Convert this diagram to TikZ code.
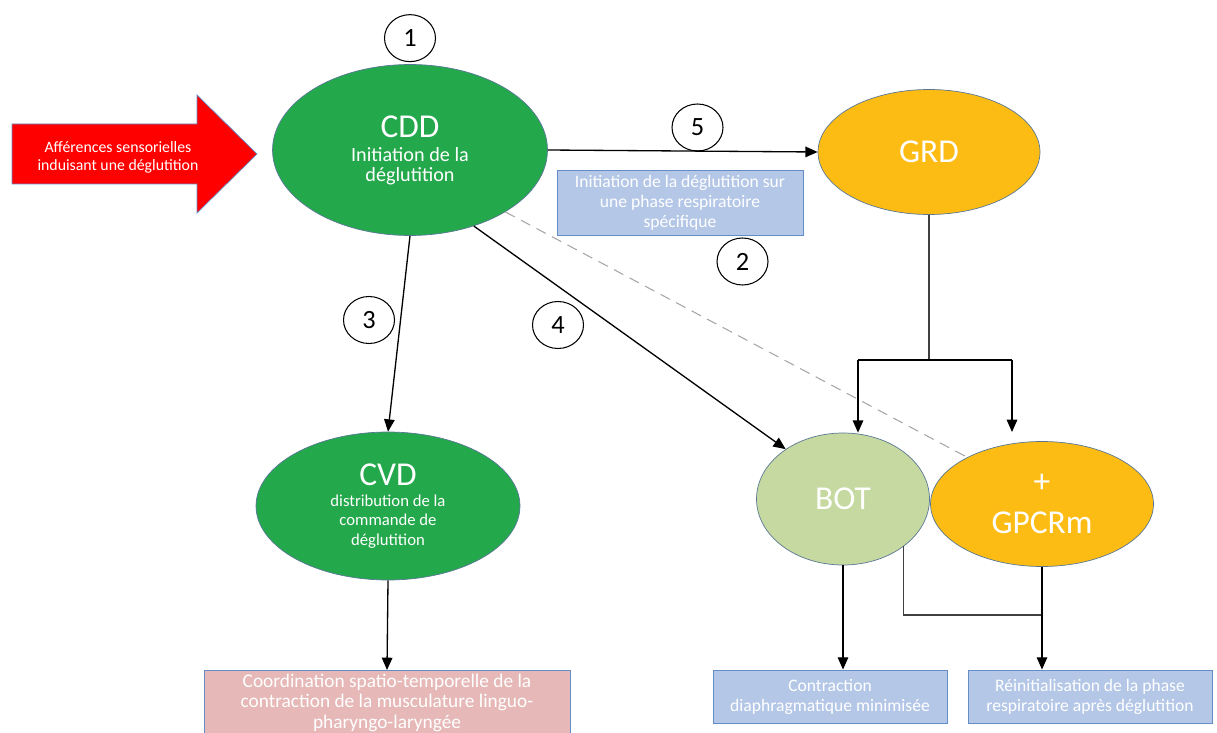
\documentclass[tikz,border=0pt]{standalone}
\usepackage{fontspec}
\setmainfont{Carlito}
\usetikzlibrary{shapes.geometric, arrows.meta, positioning}

\definecolor{vertcdd}{RGB}{35,168,75}
\definecolor{orgrd}{RGB}{252,188,20}
\definecolor{vertbot}{RGB}{197,217,160}
\definecolor{bleubox}{RGB}{180,199,231}
\definecolor{bordbox}{RGB}{100,140,200}
\definecolor{rosebox}{RGB}{230,184,183}
\definecolor{bordell}{RGB}{90,120,150}

\newcommand{\grand}{\fontsize{19}{23}\selectfont}
\tikzset{
	centre/.style={
		ellipse,
		draw=bordell,
		line width=0.4pt,
		text=white,
		inner sep=0pt,
		align=center,
		font=\grand
	},
	legende/.style={
		rectangle,
		draw=bordbox,
		line width=0.5pt,
		fill=bleubox,
		text=white,
		inner sep=0pt,
		align=center,
		font=\fontsize{10}{11.4}\selectfont
	},
	etape/.style={
		ellipse,
		draw,
		line width=0.6pt,
		inner sep=0pt,
		minimum width=1.02cm,
		minimum height=0.94cm,
		font=\fontsize{15}{15}\selectfont
	},
	fleche/.style={-{Triangle[length=7pt,width=6pt]}, line width=0.75pt}
}

\begin{document}
\begin{tikzpicture}[x=0.02cm, y=-0.02cm]
	\useasboundingbox (0,0) rectangle (1217,733);
	\clip (0,0) rectangle (1217,733);

	% entree sensorielle
	\fill[red, draw=bordbox, line width=0.4pt] (12,124) -- (197,124) -- (197,95) -- (257,154)
		-- (197,213) -- (197,184) -- (12,184) -- cycle;
	\node[text=white, align=center, font=\fontsize{9}{10.3}\selectfont] (aff) at (118,157)
		{Afférences sensorielles\\induisant une déglutition};

	% centres
	\node[centre, fill=vertcdd, minimum width=5.5cm, minimum height=3.42cm,
		font=\fontsize{11.5}{11}\selectfont] (cdd) at (410,150)
		{\grand CDD\\[3pt] Initiation de la\\déglutition};
	\node[centre, fill=orgrd, minimum width=4.44cm, minimum height=2.5cm] (grd) at (929,152) {GRD};
	\node[centre, fill=vertcdd, minimum width=5.28cm, minimum height=2.96cm,
		font=\fontsize{9.5}{11}\selectfont] (cvd) at (388,506)
		{\grand CVD\\[1pt] distribution de la\\commande de\\déglutition};
	\node[centre, fill=vertbot, minimum width=3.46cm, minimum height=2.64cm] (bot) at (843,499) {BOT};
	\node[centre, fill=orgrd, minimum width=4.46cm, minimum height=2.5cm] (gpcrm) at (1042,504) {+\\GPCRm};

	% legendes
	\node[legende, minimum width=4.92cm, minimum height=1.3cm] (phase) at (680,202.5)
		{Initiation de la déglutition sur\\une phase respiratoire\\spécifique};
	\node[legende, fill=rosebox, minimum width=7.32cm, minimum height=1.3cm, anchor=north,
		font=\fontsize{11}{11.6}\selectfont] (coord) at (387,670)
		{Coordination spatio-temporelle de la\\contraction de la musculature linguo-\\pharyngo-laryngée};
	\node[legende, minimum width=4.68cm, minimum height=1.06cm] (contr) at (830,696.5)
		{Contraction\\diaphragmatique minimisée};
	\node[legende, minimum width=4.88cm, minimum height=1.06cm] (reinit) at (1090,696.5)
		{Réinitialisation de la phase\\respiratoire après déglutition};

	% etapes
	\node[etape, above=0.04cm of cdd] (un) {1};
	\node[etape] (deux) at (742.5,261.5) {2};
	\node[etape] (trois) at (369,320) {3};
	\node[etape] (quatre) at (558,325) {4};
	\node[etape] (cinq) at (697.5,127.5) {5};

	% liaisons
	\draw[fleche] (cdd.east) -- (grd.west);
	\draw[fleche] (cdd.south) -- (cvd.north);
	\draw[fleche] (cdd.-50) -- (bot.139);
	\draw[gray!70, line width=0.6pt, dash pattern=on 6pt off 4pt] (cdd.-33) -- (gpcrm.148);
	\draw[fleche] (cvd.south) -- (coord.north);

	% GRD vers BOT et GPCRm
	\coordinate (fourche) at (grd.south |- 0,360);
	\coordinate (fgauche) at (858,360);
	\coordinate (fdroite) at (1012,360);
	\draw[black!75, line width=0.75pt] (grd.south) -- (fourche);
	\draw[line width=0.75pt] (fgauche) -- (fdroite);
	\draw[fleche] (fgauche) -- (fgauche |- bot.north);
	\draw[fleche] (fdroite) -- ++(0,72);

	% sorties
	\coordinate (jonction) at (gpcrm.south |- 0,615);
	\draw[fleche] (bot.south) -- (bot.south |- contr.north);
	\draw[black!75, line width=0.75pt] (bot.-38) |- (jonction);
	\draw[fleche] (gpcrm.south) -- (gpcrm.south |- reinit.north);
\end{tikzpicture}
\end{document}
